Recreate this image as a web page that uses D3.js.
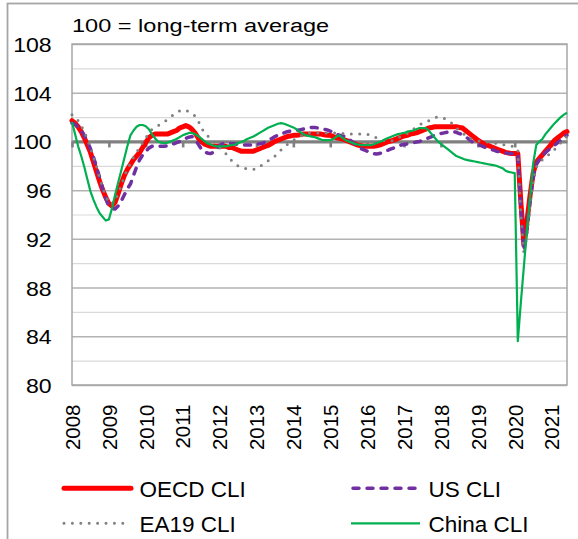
<!DOCTYPE html>
<html>
<head>
<meta charset="utf-8">
<script src="https://cdn.jsdelivr.net/npm/d3@7"></script>
<style>
  body { margin: 0; background: #fff; }
  svg { display: block; font-family: "Liberation Sans", Arial, sans-serif; }
</style>
</head>
<body>
<svg id="chart" width="578" height="539"></svg>
<script>
// monthly categories, Jan 2008 .. Jun 2021
var months = d3.timeMonth.range(new Date(2008, 0, 1), new Date(2021, 6, 1));
var yearLabels = ["2008","2009","2010","2011","2012","2013","2014","2015","2016","2017","2018","2019","2020","2021"];
var yLabels = [80, 84, 88, 92, 96, 100, 104, 108];
var yMinor = [82, 86, 90, 94, 98, 102, 106];

var oecdCli = [
  101.7, 101.5, 101.2, 100.8, 100.3, 99.7, 99.1, 98.3, 97.5, 96.7, 96.0, 95.4,
  94.9, 94.7, 95.0, 95.7, 96.5, 97.2, 97.7, 98.1, 98.5, 98.8, 99.1, 99.5,
  99.9, 100.3, 100.5, 100.6, 100.6, 100.6, 100.6, 100.6, 100.7, 100.8, 100.9, 101.1,
  101.2, 101.3, 101.2, 101.0, 100.7, 100.3, 100.0, 99.8, 99.7, 99.6, 99.6, 99.6,
  99.6, 99.6, 99.6, 99.5, 99.5, 99.4, 99.3, 99.2, 99.2, 99.2, 99.2, 99.2,
  99.3, 99.4, 99.5, 99.6, 99.7, 99.85, 100.0, 100.1, 100.2, 100.3, 100.4, 100.45,
  100.5, 100.5, 100.55, 100.6, 100.6, 100.6, 100.6, 100.6, 100.6, 100.6, 100.55, 100.5,
  100.5, 100.4, 100.3, 100.25, 100.2, 100.1, 100.0, 99.9, 99.8, 99.7, 99.65, 99.6,
  99.6, 99.6, 99.6, 99.65, 99.7, 99.8, 99.9, 100.0, 100.05, 100.15, 100.25, 100.35,
  100.45, 100.5, 100.6, 100.65, 100.7, 100.8, 100.9, 101.0, 101.1, 101.15, 101.2, 101.2,
  101.2, 101.2, 101.2, 101.2, 101.2, 101.2, 101.15, 101.1, 100.9, 100.7, 100.5, 100.3,
  100.1, 99.95, 99.8, 99.7, 99.6, 99.5, 99.4, 99.3, 99.2, 99.1, 99.05, 99.0,
  99.0, 99.0, 95.0, 91.5, 93.5, 95.6, 97.4, 98.3, 98.6, 98.9, 99.2, 99.5,
  99.8, 100.1, 100.3, 100.5, 100.7, 100.8
];

var usCli = [
  101.5, 101.4, 101.2, 100.9, 100.5, 100.0, 99.4, 98.7, 97.9, 97.0, 96.1, 95.3,
  94.7, 94.5, 94.45, 94.7, 95.1, 95.6, 96.1, 96.5, 97.2, 97.9, 98.5, 98.9,
  99.2, 99.45, 99.6, 99.65, 99.6, 99.6, 99.6, 99.65, 99.7, 99.8, 99.9, 100.0,
  100.1, 100.25, 100.35, 100.4, 100.2, 99.8, 99.4, 99.15, 99.05, 99.0, 99.1, 99.4,
  99.65, 99.8, 99.85, 99.85, 99.8, 99.8, 99.75, 99.7, 99.7, 99.7, 99.7, 99.7,
  99.75, 99.8, 99.85, 99.95, 100.1, 100.25, 100.4, 100.5, 100.6, 100.7, 100.8, 100.85,
  100.9, 100.9, 100.95, 101.0, 101.05, 101.1, 101.15, 101.15, 101.1, 101.05, 101.0, 100.95,
  100.85, 100.75, 100.6, 100.5, 100.45, 100.4, 100.2, 100.0, 99.8, 99.6, 99.4, 99.3,
  99.2, 99.1, 99.0, 98.97, 99.0, 99.1, 99.2, 99.3, 99.4, 99.5, 99.6, 99.7,
  99.75, 99.8, 99.85, 99.9, 99.95, 100.0, 100.1, 100.2, 100.3, 100.4, 100.5, 100.6,
  100.65, 100.7, 100.75, 100.8, 100.8, 100.75, 100.65, 100.55, 100.4, 100.2, 100.0, 99.85,
  99.75, 99.65, 99.55, 99.45, 99.35, 99.3, 99.2, 99.15, 99.1, 99.05, 99.0, 99.0,
  98.97, 98.95, 94.5, 91.0, 92.8, 95.2, 97.0, 98.1, 98.5, 98.8, 99.1, 99.3,
  99.5, 99.7, 99.9, 100.1, 100.4, 100.5
];

var ea19Cli = [
  102.2, 102.0, 101.7, 101.3, 100.8, 100.2, 99.5, 98.7, 97.9, 97.0, 96.2, 95.5,
  95.0, 94.85, 95.1, 95.7, 96.4, 97.1, 97.7, 98.2, 98.7, 99.1, 99.5, 99.9,
  100.3, 100.7, 101.0, 101.15, 101.3, 101.45, 101.6, 101.8, 102.0, 102.2, 102.4, 102.5,
  102.6, 102.55, 102.45, 102.3, 102.1, 101.7, 101.2, 100.7, 100.5, 100.2, 100.0, 99.8,
  99.5, 99.2, 99.0, 98.7, 98.4, 98.2, 98.0, 97.9, 97.8, 97.75, 97.7, 97.7,
  97.75, 97.9, 98.1, 98.25, 98.45, 98.6, 98.8, 99.05, 99.3, 99.5, 99.75, 99.95,
  100.1, 100.25, 100.4, 100.5, 100.6, 100.7, 100.7, 100.7, 100.7, 100.7, 100.7, 100.7,
  100.7, 100.7, 100.7, 100.7, 100.65, 100.6, 100.6, 100.6, 100.6, 100.6, 100.6, 100.6,
  100.6, 100.5, 100.4, 100.3, 100.2, 100.1, 100.05, 100.05, 100.05, 100.15, 100.3, 100.4,
  100.5, 100.65, 100.8, 101.0, 101.2, 101.35, 101.5, 101.6, 101.7, 101.85, 101.95, 102.0,
  102.0, 101.9, 101.75, 101.6, 101.4, 101.1, 100.9, 100.7, 100.5, 100.3, 100.2, 100.1,
  100.05, 100.0, 99.98, 99.95, 99.9, 99.87, 99.85, 99.8, 99.75, 99.7, 99.65, 99.6,
  99.6, 99.3, 94.0, 90.7, 92.3, 94.8, 96.8, 97.9, 98.2, 98.5, 98.75, 98.9,
  99.1, 99.35, 99.6, 99.9, 100.2, 100.4
];

var chinaCli = [
  101.6, 100.6, 99.6, 98.8, 97.9, 96.9, 95.9, 95.2, 94.6, 94.1, 93.8, 93.5,
  93.6, 94.5, 95.6, 96.6, 97.6, 98.6, 99.6, 100.5, 100.9, 101.2, 101.35, 101.35,
  101.25, 101.0, 100.6, 100.25, 100.0, 99.9, 99.85, 99.9, 100.0, 100.1, 100.2, 100.35,
  100.5, 100.6, 100.7, 100.7, 100.6, 100.45, 100.25, 100.05, 99.85, 99.75, 99.65, 99.6,
  99.6, 99.6, 99.6, 99.65, 99.7, 99.75, 99.85, 99.95, 100.05, 100.2, 100.3, 100.4,
  100.55, 100.7, 100.85, 101.0, 101.15, 101.25, 101.35, 101.45, 101.5, 101.45, 101.35, 101.25,
  101.15, 101.0, 100.8, 100.65, 100.5, 100.45, 100.4, 100.35, 100.25, 100.15, 100.1, 100.1,
  100.1, 100.2, 100.4, 100.5, 100.3, 100.1, 100.0, 99.9, 99.8, 99.75, 99.7, 99.7,
  99.7, 99.7, 99.75, 99.85, 99.95, 100.05, 100.2, 100.3, 100.4, 100.5, 100.6, 100.65,
  100.7, 100.8, 100.85, 100.9, 101.0, 101.1, 101.1, 101.1, 100.9, 100.6, 100.3, 100.0,
  99.8, 99.6, 99.4, 99.2, 99.0, 98.8, 98.7, 98.6, 98.5, 98.45, 98.4, 98.35,
  98.3, 98.25, 98.2, 98.15, 98.1, 98.05, 98.0, 97.9, 97.8, 97.6, 97.5, 97.45,
  97.4, 83.6, 86.8, 89.8, 92.8, 95.5, 98.2, 99.7, 100.0, 100.2, 100.6, 100.9,
  101.2, 101.5, 101.75, 102.0, 102.2, 102.35
];

var seriesNames = ["OECD CLI", "US CLI", "EA19 CLI", "China CLI"];

var plot = { left: 72, right: 567, top: 44, bottom: 385 };

var svg = d3.select("#chart");

// outer chart frame
svg.append("rect")
  .attr("x", 7.5).attr("y", 3.5)
  .attr("width", 620).attr("height", 620)
  .attr("fill", "#fff")
  .attr("stroke", "#a6a6a6")
  .attr("stroke-width", 1.8);

var x = d3.scalePoint()
  .domain(months)
  .range([plot.left, plot.right]);

var y = d3.scaleLinear()
  .domain([80, 108])
  .range([plot.bottom, plot.top]);

var januaries = months.filter(d => d.getMonth() === 0);

// minor gridlines
svg.append("g")
  .attr("transform", `translate(${plot.left},0)`)
  .call(d3.axisLeft(y).tickValues(yMinor).tickSize(-(plot.right - plot.left)).tickFormat(""))
  .call(g => g.select(".domain").remove())
  .selectAll("line").attr("stroke", "#d9d9d9").attr("stroke-width", 1.2);

// major gridlines
svg.append("g")
  .attr("transform", `translate(${plot.left},0)`)
  .call(d3.axisLeft(y).tickValues(yLabels).tickSize(-(plot.right - plot.left)).tickFormat(""))
  .call(g => g.select(".domain").remove())
  .selectAll("line").attr("stroke", "#b3b3b3").attr("stroke-width", 1.5);

// plot border
svg.append("rect")
  .attr("x", plot.left).attr("y", plot.top)
  .attr("width", plot.right - plot.left).attr("height", plot.bottom - plot.top)
  .attr("fill", "none")
  .attr("stroke", "#a6a6a6")
  .attr("stroke-width", 1.5);

// y labels
var yAxis = svg.append("g")
  .attr("transform", `translate(${plot.left},0)`)
  .call(d3.axisLeft(y).tickValues(yLabels).tickSize(0).tickPadding(18.5));
yAxis.select(".domain").remove();
yAxis.selectAll("text")
  .attr("font-size", 21)
  .attr("font-family", '"Liberation Sans", Arial, sans-serif')
  .attr("fill", "#000")
  .attr("dy", "0.36em")
  .attr("transform", "scale(1.1,1)");

// category axis crossing at 100
var midAxis = svg.append("g")
  .attr("transform", `translate(0,${y(100)})`)
  .call(d3.axisBottom(x).tickValues(januaries).tickSize(6).tickSizeOuter(0).tickFormat(""));
midAxis.select(".domain").attr("stroke", "#808080").attr("stroke-width", 3.2);
midAxis.selectAll(".tick line").attr("stroke", "#808080").attr("stroke-width", 2.6);

// year labels under the plot
var xAxis = svg.append("g")
  .attr("transform", `translate(0,${plot.bottom})`)
  .call(d3.axisBottom(x).tickValues(januaries).tickSize(0).tickFormat((d, i) => yearLabels[i]));
xAxis.select(".domain").remove();
xAxis.selectAll("text")
  .attr("y", null).attr("dy", null)
  .attr("font-size", 20.5)
  .attr("font-family", '"Liberation Sans", Arial, sans-serif')
  .attr("fill", "#000")
  .attr("text-anchor", "end")
  .attr("transform", "translate(7.3,19.5) rotate(-90)");

// title
svg.append("text")
  .attr("transform", "translate(72,31.7) scale(1.24,1)")
  .attr("font-size", 19)
  .attr("fill", "#000")
  .text("100 = long-term average");

var line = d3.line()
  .x((d, i) => x(months[i]))
  .y(d => y(d));

var styles = [
  { data: oecdCli, color: "#ff0000", width: 5, dash: null, cap: "round" },
  { data: usCli, color: "#7030a0", width: 3.5, dash: "6 8", cap: "round" },
  { data: ea19Cli, color: "#808080", width: 3, dash: "0 8.4", cap: "round" },
  { data: chinaCli, color: "#00b050", width: 2.2, dash: null, cap: "butt" }
];

styles.forEach(s => {
  svg.append("path")
    .datum(s.data)
    .attr("fill", "none")
    .attr("stroke", s.color)
    .attr("stroke-width", s.width)
    .attr("stroke-dasharray", s.dash)
    .attr("stroke-linecap", s.cap)
    .attr("stroke-linejoin", "round")
    .attr("d", line);
});

// legend
var legendPos = [
  { x: 62, y: 488.3 },
  { x: 351, y: 488.3 },
  { x: 62, y: 523.3 },
  { x: 351, y: 523.3 }
];
var legend = svg.append("g");
styles.forEach((s, i) => {
  var p = legendPos[i];
  legend.append("line")
    .attr("x1", p.x + (s.cap === "round" ? 2 : 0)).attr("x2", p.x + 69)
    .attr("y1", p.y).attr("y2", p.y)
    .attr("stroke", s.color)
    .attr("stroke-width", s.width)
    .attr("stroke-dasharray", s.dash)
    .attr("stroke-linecap", s.cap);
  legend.append("text")
    .attr("x", p.x + 77.5)
    .attr("y", p.y + 8.4)
    .attr("font-size", 22.5)
    .attr("fill", "#000")
    .text(seriesNames[i]);
});
</script>
</body>
</html>
